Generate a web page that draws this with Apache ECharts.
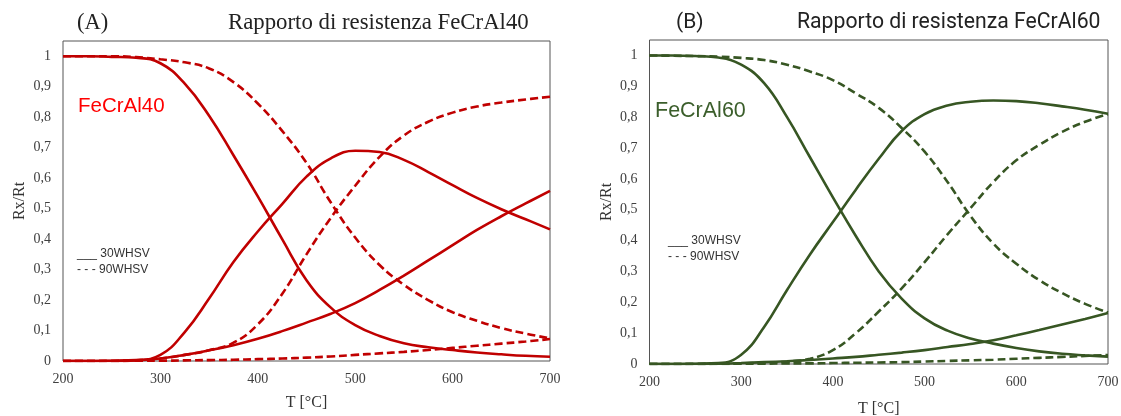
<!DOCTYPE html>
<html>
<head>
<meta charset="utf-8">
<script src="https://cdn.jsdelivr.net/npm/echarts@6/dist/echarts.min.js"></script>
<style>
html,body{margin:0;padding:0;background:#fff;}
#c{width:1121px;height:416px;}
</style>
</head>
<body>
<div id="c"></div>
<script>
// Temperature grid (°C)
const temps = [200,225,250,275,300,325,350,375,400,425,450,475,500,525,550,575,600,625,650,675,700];
const xTicks = [200,300,400,500,600,700];

// Panel A – FeCrAl40
const a30_dec  = [1.0,1.0,0.998,0.995,0.977,0.91,0.805,0.675,0.54,0.40,0.265,0.175,0.118,0.082,0.058,0.045,0.036,0.028,0.022,0.017,0.014];
const a30_hump = [0,0,0.001,0.003,0.02,0.095,0.205,0.325,0.425,0.515,0.605,0.665,0.69,0.686,0.66,0.62,0.577,0.535,0.498,0.465,0.432];
const a30_rise = [0,0,0,0.002,0.008,0.02,0.035,0.052,0.073,0.098,0.126,0.155,0.19,0.233,0.28,0.33,0.38,0.43,0.475,0.517,0.558];
const a90_dec  = [1.0,1.0,1.0,0.997,0.99,0.98,0.96,0.915,0.845,0.755,0.65,0.52,0.405,0.315,0.25,0.2,0.16,0.132,0.108,0.09,0.074];
const a90_rise = [0,0,0,0.002,0.008,0.02,0.035,0.06,0.12,0.22,0.35,0.47,0.575,0.67,0.74,0.785,0.815,0.835,0.848,0.858,0.867];
const a90_low  = [0,0,0,0.001,0.001,0.002,0.003,0.004,0.006,0.008,0.011,0.015,0.02,0.025,0.03,0.036,0.043,0.05,0.057,0.064,0.072];

// Panel B – FeCrAl60
const b30_dec  = [1.0,1.0,0.998,0.993,0.97,0.91,0.80,0.67,0.54,0.415,0.30,0.212,0.148,0.108,0.083,0.066,0.052,0.041,0.033,0.028,0.024];
const b30_hump = [0,0,0.001,0.003,0.03,0.12,0.24,0.355,0.46,0.565,0.665,0.755,0.81,0.838,0.85,0.854,0.852,0.845,0.835,0.824,0.811];
const b30_rise = [0,0,0,0.001,0.003,0.006,0.009,0.013,0.018,0.023,0.03,0.037,0.045,0.055,0.065,0.077,0.093,0.11,0.128,0.146,0.165];
const b90_dec  = [1.0,0.999,0.998,0.996,0.992,0.985,0.97,0.948,0.92,0.877,0.83,0.765,0.688,0.59,0.48,0.39,0.325,0.272,0.23,0.195,0.167];
const b90_rise = [0,0,0,0.001,0.002,0.004,0.008,0.017,0.045,0.10,0.17,0.245,0.33,0.42,0.505,0.59,0.66,0.71,0.752,0.785,0.81];
const b90_low  = [0,0,0,0,0.001,0.001,0.002,0.002,0.003,0.004,0.005,0.006,0.008,0.01,0.012,0.014,0.017,0.02,0.023,0.026,0.029];

const yTickLabels = ['0','0,1','0,2','0,3','0,4','0,5','0,6','0,7','0,8','0,9','1'];

const RED = '#C00000';
const GREEN = '#375623';

function pts(vals){ return temps.map((t,i)=>[t, vals[i]]); }
function line(name, vals, idx, color, dashed){
  return {
    name, type:'line', xAxisIndex:idx, yAxisIndex:idx,
    data: pts(vals), showSymbol:false, smooth:0.45, silent:true,
    lineStyle:{color, width:2.6, type: dashed ? [8,4] : 'solid'},
    z: 3
  };
}
function yLabel(v){
  const i = Math.round(v*10);
  if (Math.abs(v*10 - i) > 1e-6) return '';
  return yTickLabels[i] || '';
}
const serif = 'Liberation Serif';
function xAxis(idx, gap){
  return {
    gridIndex: idx, type:'value', min:200, max:700, interval:100,
    name:'T [°C]', nameLocation:'middle', nameGap:gap,
    nameTextStyle:{fontFamily:serif, fontSize:16, color:'#333'},
    axisLine:{show:false}, axisTick:{show:false}, splitLine:{show:false},
    axisLabel:{fontFamily:serif, fontSize:14, color:'#404040', margin:11,
      formatter:(v)=> xTicks.includes(v) ? String(v) : ''}
  };
}
function yAxis(idx, gap){
  return {
    gridIndex: idx, type:'value', min:0, max:1.05, interval:0.1,
    name:'Rx/Rt', nameLocation:'middle', nameGap:gap, nameRotate:90,
    nameTextStyle:{fontFamily:serif, fontSize:16, color:'#333'},
    axisLine:{show:false}, axisTick:{show:false}, splitLine:{show:false},
    axisLabel:{fontFamily:serif, fontSize:14, color:'#404040', margin:12, showMaxLabel:false,
      formatter:yLabel}
  };
}

const chart = echarts.init(document.getElementById('c'), null, {renderer:'canvas'});
chart.setOption({
  animation:false,
  backgroundColor:'#fff',
  title:[
    {text:'(A)', left:72, top:7, textStyle:{fontFamily:serif, fontSize:22.5, fontWeight:'normal', color:'#222'}},
    {text:'Rapporto di resistenza FeCrAl40', left:223, top:7, textStyle:{fontFamily:serif, fontSize:22.8, fontWeight:'normal', color:'#222'}},
    {text:'(B)', left:671, top:7, textStyle:{fontFamily:'Roboto', fontSize:21, fontWeight:'normal', color:'#222'}},
    {text:'Rapporto di resistenza FeCrAl60', left:792, top:7, textStyle:{fontFamily:'Roboto', fontSize:21.2, fontWeight:'normal', color:'#222'}}
  ],
  grid:[
    {left:63, top:41, width:487, height:320, show:true, borderColor:'#555', borderWidth:1, backgroundColor:'#fff', outerBoundsMode:'none', containLabel:false},
    {left:649.5, top:40, width:458.5, height:324, show:true, borderColor:'#555', borderWidth:1, backgroundColor:'#fff', outerBoundsMode:'none', containLabel:false}
  ],
  xAxis:[xAxis(0,34), xAxis(1,37)],
  yAxis:[yAxis(0,35), yAxis(1,35)],
  graphic:[
    {type:'text', left:78, top:96, style:{text:'FeCrAl40', fontFamily:'Liberation Sans', fontSize:20.5, fill:'#FF0000'}},
    {type:'text', left:655, top:100, style:{text:'FeCrAl60', fontFamily:'Liberation Sans', fontSize:21.5, fill:'#3B5E2B'}},
    {type:'text', left:77, top:248, style:{text:'___ 30WHSV', fontFamily:'Liberation Sans', fontSize:12, fill:'#333'}},
    {type:'text', left:77, top:264, style:{text:'- - - 90WHSV', fontFamily:'Liberation Sans', fontSize:12, fill:'#333'}},
    {type:'text', left:668, top:235, style:{text:'___ 30WHSV', fontFamily:'Liberation Sans', fontSize:12, fill:'#333'}},
    {type:'text', left:668, top:251, style:{text:'- - - 90WHSV', fontFamily:'Liberation Sans', fontSize:12, fill:'#333'}}
  ],
  series:[
    line('A 30WHSV dec', a30_dec, 0, RED, false),
    line('A 30WHSV hump', a30_hump, 0, RED, false),
    line('A 30WHSV rise', a30_rise, 0, RED, false),
    line('A 90WHSV dec', a90_dec, 0, RED, true),
    line('A 90WHSV rise', a90_rise, 0, RED, true),
    line('A 90WHSV low', a90_low, 0, RED, true),
    line('B 30WHSV dec', b30_dec, 1, GREEN, false),
    line('B 30WHSV hump', b30_hump, 1, GREEN, false),
    line('B 30WHSV rise', b30_rise, 1, GREEN, false),
    line('B 90WHSV dec', b90_dec, 1, GREEN, true),
    line('B 90WHSV rise', b90_rise, 1, GREEN, true),
    line('B 90WHSV low', b90_low, 1, GREEN, true)
  ]
});
</script>
</body>
</html>
